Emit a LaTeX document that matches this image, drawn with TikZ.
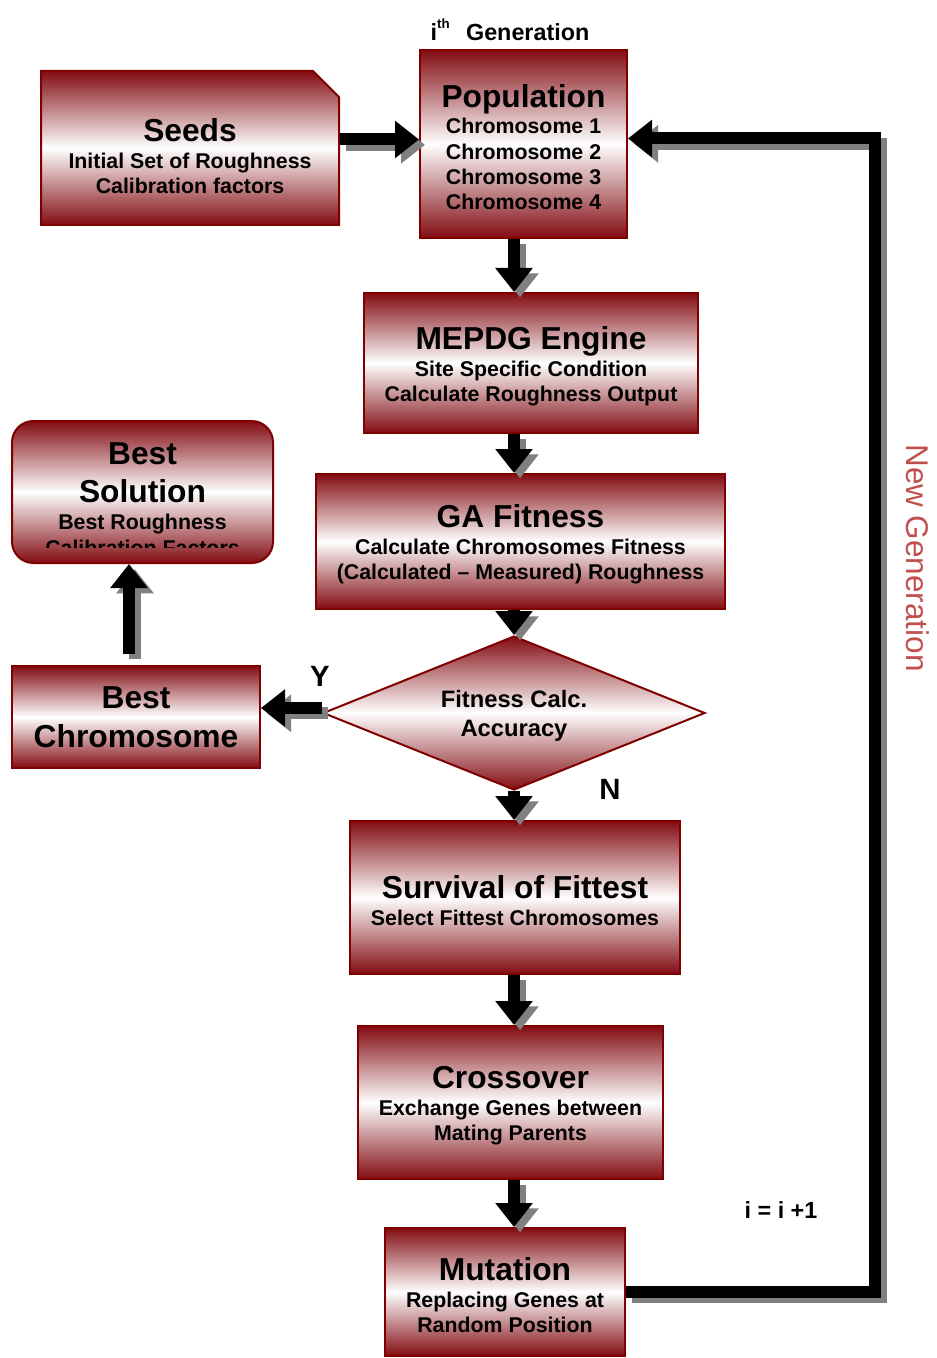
\documentclass[tikz,border=0pt]{standalone}
\usepackage{fontspec}
\setmainfont{Liberation Sans}
\usetikzlibrary{shapes.geometric, shapes.misc, arrows.meta, positioning}
\definecolor{boxred}{RGB}{130,12,18}
\definecolor{boxedge}{RGB}{128,0,0}
\definecolor{shadowgray}{RGB}{128,128,128}
\definecolor{loopred}{RGB}{192,80,77}
\newcommand{\titlesize}{\fontsize{23.8}{28}\selectfont}
\newcommand{\linesize}{\fontsize{16}{19}\selectfont}
\newcommand{\boxtitle}[1]{{\titlesize\rule{0pt}{22pt}#1}}
\tikzstyle{block} = [rectangle, draw=boxedge, line width=1.5pt, top color=boxred, bottom color=boxred, middle color=white, align=center, font=\bfseries\linesize, inner sep=0pt]
\tikzstyle{arrow} = [line width=9pt, line join=miter, -{Triangle[length=18pt, width=27pt]}]
\tikzstyle{arrow shadow} = [arrow, draw=shadowgray, transform canvas={shift={(4.5pt,-4pt)}}]
\tikzstyle{mark label} = [font=\bfseries\fontsize{17.5}{21}\selectfont]
\newcommand{\flow}[1]{\draw[arrow shadow] #1; \draw[arrow] #1;}

\begin{document}
\begin{tikzpicture}[x=0.75pt, y=-0.75pt]
\useasboundingbox (0,0) rectangle (937,1358);

\node[block, chamfered rectangle, chamfered rectangle corners=north east, chamfered rectangle xsep=9.75pt, chamfered rectangle ysep=9.75pt, minimum width=223.5pt, minimum height=115.5pt] (seeds) at (190,148) {{\titlesize\rule{0pt}{29.5pt}Seeds}\\[1pt] Initial Set of Roughness\\ Calibration factors};
\node[block, minimum width=155.25pt, minimum height=141pt] (pop) at (523.5,144) {\boxtitle{Population}\\[1pt] Chromosome 1\\ Chromosome 2\\ Chromosome 3\\ Chromosome 4};
\node[block, minimum width=250.5pt, minimum height=105pt] (engine) at (531,363) {\boxtitle{MEPDG Engine}\\[1pt] Site Specific Condition\\ Calculate Roughness Output};
\node[block, minimum width=306.75pt, minimum height=101.25pt] (fitness) at (520.5,541.5) {\boxtitle{GA Fitness}\\[1pt] Calculate Chromosomes Fitness\\ (Calculated – Measured) Roughness};
\node[block, diamond, aspect=2.48, minimum width=286.5pt, minimum height=115.5pt, font=\bfseries\fontsize{17.8}{22}\selectfont] (acc) at (514,713) {\rule{0pt}{17pt}Fitness Calc.\\ Accuracy};
\node[block, minimum width=247.5pt, minimum height=114.75pt] (survival) at (515,897.5) {\boxtitle{Survival of Fittest}\\[1.5pt] Select Fittest Chromosomes};
\node[block, minimum width=228.75pt, minimum height=114.75pt] (crossover) at (510.5,1102.5) {\boxtitle{Crossover}\\[1pt] Exchange Genes between\\ Mating Parents};
\node[block, minimum width=180pt, minimum height=96pt] (mutation) at (505,1292) {\boxtitle{Mutation}\\[1pt] Replacing Genes at\\ Random Position};
\node[block, minimum width=186pt, minimum height=76.5pt, font=\bfseries\fontsize{23.8}{29}\selectfont] (bestchrom) at (136,717) {Best\\ Chromosome};
\node[block, rounded corners=16pt, minimum width=195.75pt, minimum height=106.5pt] (bestsol) at (142.5,492) {};
\begin{scope}
\clip (12,421) rectangle (273,547);
\node[align=center, inner sep=0pt, anchor=north, font=\bfseries\fontsize{23.8}{29}\selectfont] (bestsoltext) at (142.5,442) {Best\\ Solution\\[-8.75pt] {\linesize Best Roughness}\\[-10pt] {\linesize Calibration Factors}};
\end{scope}

\node[mark label] (gen) at (510,30) {i\raisebox{9pt}{\fontsize{10}{10}\selectfont th}\hspace{0.7em}Generation};
\node[font=\fontsize{23.6}{28}\selectfont, text=loopred, rotate=-90] (newgen) at (918,558) {New Generation};
\node[mark label] (incr) at (781,1210) {i = i +1};
\node[font=\bfseries\fontsize{22}{26}\selectfont] (yes) at (320,676) {Y};
\node[font=\bfseries\fontsize{22}{26}\selectfont] (no) at (610,789) {N};

\flow{([shift={(0,-4.5)}]seeds.east |- pop.west) -- ([shift={(0,-4.5)}]pop.west)}
\flow{(pop.south -| acc.north) -- (engine.north -| acc.north)}
\flow{(engine.south -| acc.north) -- (fitness.north -| acc.north)}
\flow{(fitness.south -| acc.north) -- (acc.north)}
\flow{(acc.south) -- (survival.north -| acc.south)}
\flow{(survival.south -| acc.north) -- (crossover.north -| acc.north)}
\flow{(crossover.south -| acc.north) -- (mutation.north -| acc.north)}
\flow{([shift={(0,-5)}]acc.west) -- ([shift={(0,-5)}]acc.west -| bestchrom.east)}
\flow{([shift={(-7,-11)}]bestchrom.north) -- ([shift={(-7,0)}]bestchrom.north |- bestsol.south)}
\coordinate (corner) at (875,138.5);
\flow{(mutation.east) -| (corner) -- (corner -| pop.east)}

\end{tikzpicture}
\end{document}
